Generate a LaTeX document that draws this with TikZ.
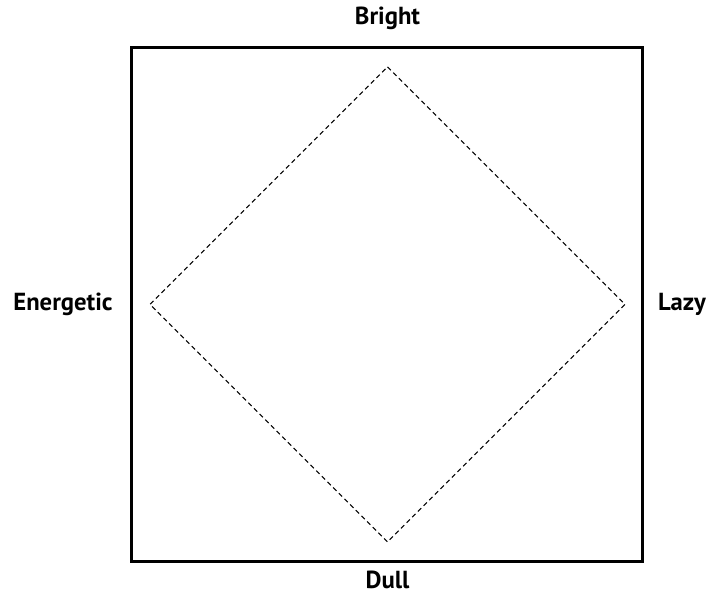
\documentclass[tikz,border=0pt]{standalone}
\usepackage{fontspec}
\setmainfont{PT Sans}
\tikzset{
  axislabel/.style={font=\bfseries\fontsize{18.5}{22}\selectfont, inner sep=0pt},
  frameline/.style={line width=2.4pt, black},
  diamondline/.style={line width=0.8pt, black, dash pattern=on 3.5pt off 2.5pt}
}
\begin{document}
\begin{tikzpicture}[x=0.75pt, y=0.75pt]
    \useasboundingbox (0,0) rectangle (708,595);

    % outer frame
    \draw[frameline] (131.5,33.5) rectangle (642.5,547.5);

    % corners of the inner diamond
    \coordinate (top) at (387.5,528);
    \coordinate (left) at (150,290.5);
    \coordinate (right) at (625,290.5);
    \coordinate (bottom) at (387.5,53);
    \draw[diamondline] (top) -- (right) -- (bottom) -- (left) -- cycle;

    % labels on the four sides
    \node[axislabel] (bright) at (387.5,577) {Bright};
    \node[axislabel] (dull) at (387.5,15) {Dull};
    \node[axislabel] (energetic) at (63,290.5) {Energetic};
    \node[axislabel] (lazy) at (682,290.5) {Lazy};
\end{tikzpicture}
\end{document}
